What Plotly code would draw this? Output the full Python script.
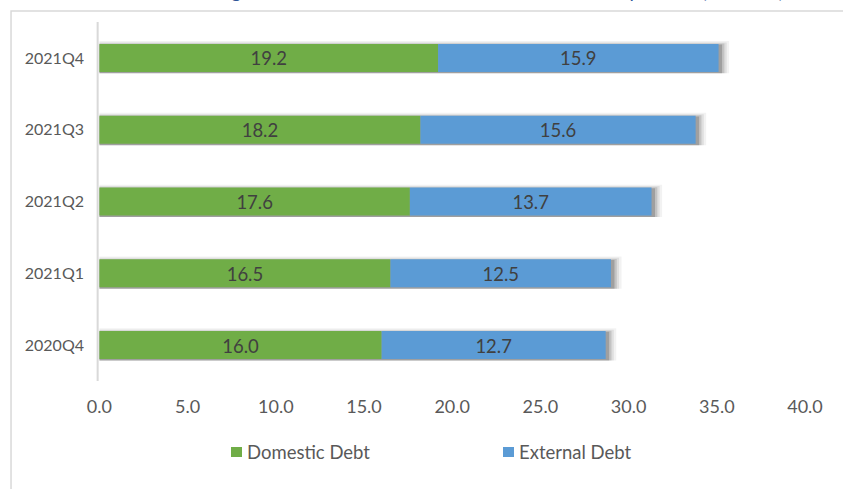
import plotly.graph_objects as go

# Quarterly debt composition (K Trillion)
quarters = ["2020Q4", "2021Q1", "2021Q2", "2021Q3", "2021Q4"]
domestic = [16.0, 16.5, 17.6, 18.2, 19.2]
external = [12.7, 12.5, 13.7, 15.6, 15.9]
x_ticks = [0, 5, 10, 15, 20, 25, 30, 35, 40]
series_names = ["Domestic Debt", "External Debt"]
title_text = "Figure 12: PGF: External and Domestic Debt Composition (K Trillion)"

GREEN = "#70AD47"
BLUE = "#5B9BD5"
TEXT = "#404040"
AXIS_TEXT = "#595959"
FONT = "Lato"

totals = [d + e for d, e in zip(domestic, external)]

fig = go.Figure()

# soft drop shadow behind each stacked bar: a few translucent layers
for extra, width, alpha in [(0.6, 0.45, 0.05), (0.46, 0.43, 0.08), (0.33, 0.415, 0.12), (0.2, 0.4, 0.18)]:
    fig.add_trace(go.Bar(
        y=quarters, x=[t + extra for t in totals], base=0, orientation="h",
        width=width, offset=-0.215, marker=dict(color=f"rgba(0,0,0,{alpha})", line_width=0),
        showlegend=False, hoverinfo="skip",
    ))

fig.add_trace(go.Bar(
    y=quarters, x=domestic, base=0, orientation="h", name=series_names[0],
    width=0.39, marker=dict(color=GREEN, line_width=0), showlegend=False,
    text=[f"{v:.1f}" for v in domestic], textposition="inside", insidetextanchor="middle",
    textfont=dict(family=FONT, size=21, color=TEXT),
))
fig.add_trace(go.Bar(
    y=quarters, x=external, base=domestic, orientation="h", name=series_names[1],
    width=0.39, marker=dict(color=BLUE, line_width=0), showlegend=False,
    text=[f"{v:.1f}" for v in external], textposition="inside", insidetextanchor="middle",
    textfont=dict(family=FONT, size=21, color=TEXT),
))

# legend: colour key squares with their labels beneath the axis
legend_shapes = []
legend_notes = []
for name, color, (sx0, sx1, tx) in zip(series_names, [GREEN, BLUE],
                                       [(0.1881, 0.2037, 0.2079), (0.5728, 0.5884, 0.5926)]):
    legend_shapes.append(dict(type="rect", xref="paper", yref="paper", x0=sx0, x1=sx1,
                              y0=-0.2117, y1=-0.1838, fillcolor=color, line_width=0))
    legend_notes.append(dict(text=name, xref="paper", yref="paper", x=tx, xanchor="left",
                             y=-0.1978, yanchor="middle", showarrow=False,
                             font=dict(family=FONT, size=18.5, color=AXIS_TEXT)))

fig.update_layout(
    width=843, height=489,
    margin=dict(l=98, r=38, t=22, b=108),
    paper_bgcolor="white", plot_bgcolor="white",
    barmode="overlay",
    showlegend=False,
    font=dict(family=FONT, color=AXIS_TEXT),
    xaxis=dict(
        range=[-0.08, 40], tickvals=x_ticks, ticktext=[f"{v:.1f}" for v in x_ticks],
        showgrid=False, zeroline=False, showline=False,
        tickfont=dict(size=18, color=AXIS_TEXT), ticklabelstandoff=13,
    ),
    yaxis=dict(
        categoryorder="array", categoryarray=quarters,
        showgrid=False, zeroline=False, showline=False,
        tickfont=dict(size=16, color=AXIS_TEXT), ticklabelstandoff=13,
        range=[-0.5, 4.5],
    ),
    shapes=[
        dict(type="rect", xref="paper", yref="paper", x0=-0.123, x1=1.3, y0=-0.5, y1=1.0306,
             line=dict(color="#D9D9D9", width=1.5), fillcolor="rgba(0,0,0,0)", layer="below"),
        # vertical category axis line
        dict(type="line", xref="paper", yref="paper", x0=-0.0005, x1=-0.0005, y0=0, y1=1,
             line=dict(color="#D9D9D9", width=2), layer="below"),
    ] + legend_shapes,
    annotations=[
        dict(text=title_text, xref="paper", yref="paper", x=0.569, xanchor="center",
             y=1.087, yanchor="middle", showarrow=False,
             font=dict(family=FONT, size=19, color="#2F5597")),
    ] + legend_notes,
)

fig.write_html("out.html")
